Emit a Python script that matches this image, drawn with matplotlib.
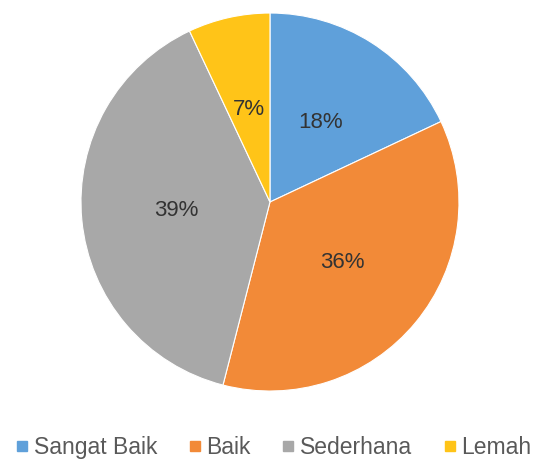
import matplotlib.pyplot as plt
from matplotlib.lines import Line2D

plt.rcParams['font.family'] = ['Liberation Sans', 'DejaVu Sans']

categories = ['Sangat Baik', 'Baik', 'Sederhana', 'Lemah']
shares = [18, 36, 39, 7]
colors = ['#5FA0DA', '#F28A38', '#A8A8A8', '#FFC418']

fig = plt.figure(figsize=(5.37, 4.65), dpi=100)
ax = fig.add_axes([0.1508, 0.1591, 0.7039, 0.8129])

wedges, texts, autotexts = ax.pie(
    shares, colors=colors, startangle=90, counterclock=False,
    autopct='%1.0f%%', pctdistance=0.5,
    wedgeprops=dict(linewidth=0.8, edgecolor='white'),
    textprops=dict(fontsize=16, color='#333333'))
ax.set_xlim(-1, 1)
ax.set_ylim(-1, 1)
ax.set_aspect('equal')

# legend with small squares along the bottom
handles = [Line2D([], [], marker='s', linestyle='', markersize=7,
                  color=c) for c in colors]
fig.legend(handles, categories, loc='center', bbox_to_anchor=(0.51, 0.038),
           ncol=4, frameon=False, fontsize=16.5, handlelength=0.5,
           handletextpad=0.25, columnspacing=1.4, labelcolor='#595959')

fig.savefig('out.png', dpi=100)
